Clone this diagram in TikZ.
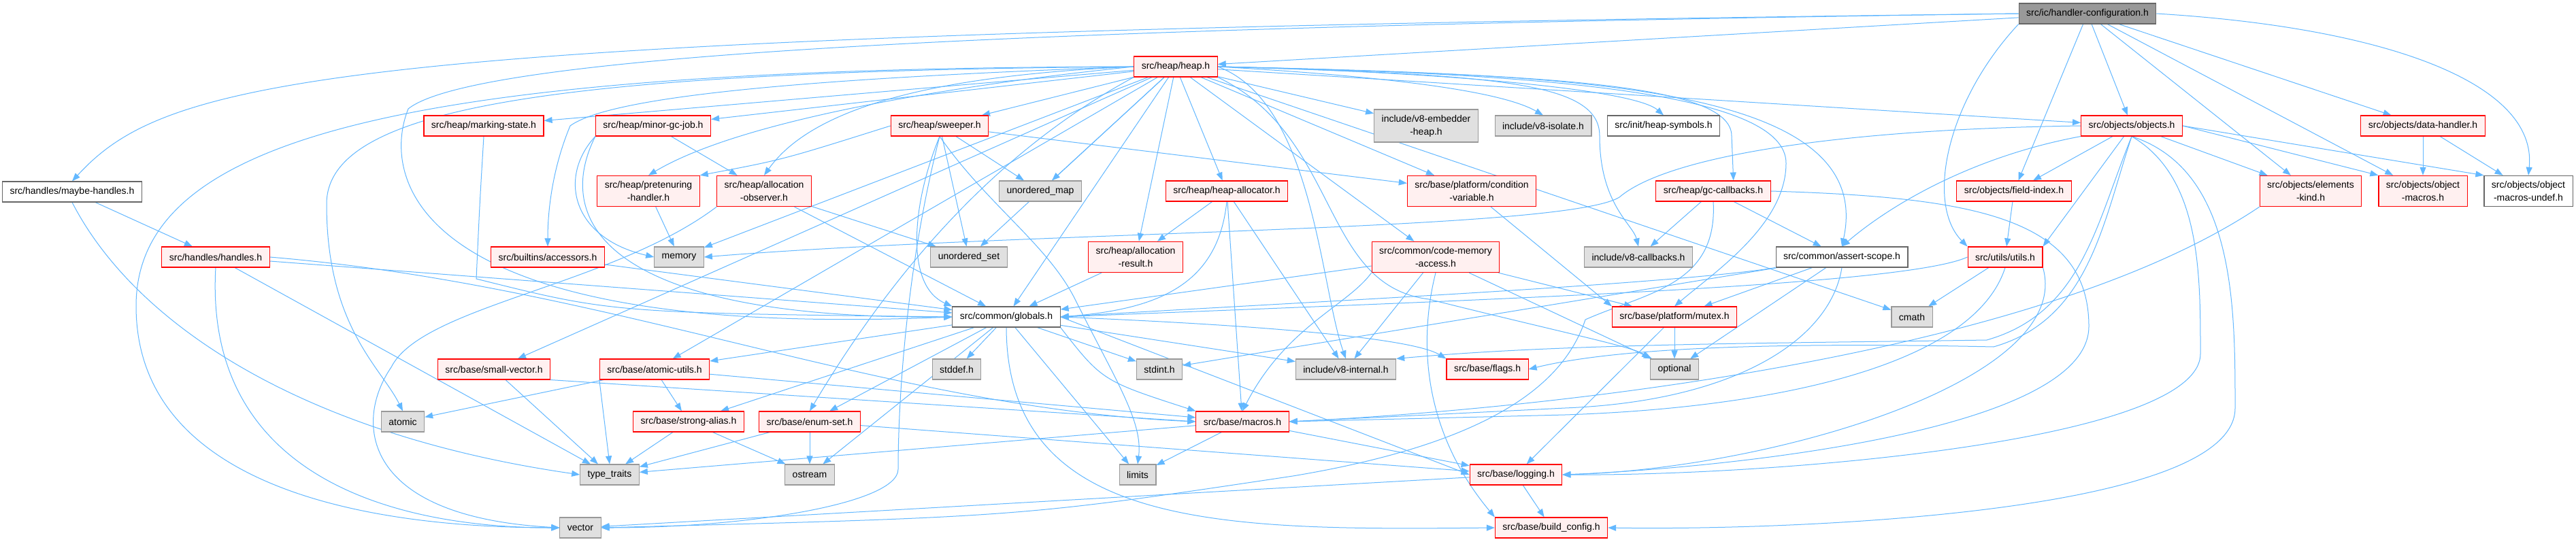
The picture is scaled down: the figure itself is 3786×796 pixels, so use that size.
\documentclass[tikz,border=0pt]{standalone}
\usepackage{fontspec}
\setmainfont{Liberation Sans}
\usetikzlibrary{arrows.meta,backgrounds}

\definecolor{edgeblue}{HTML}{63B8FF}
\definecolor{truncfill}{HTML}{FFF0F0}
\definecolor{extfill}{HTML}{E0E0E0}
\definecolor{extline}{HTML}{999999}
\definecolor{fileline}{HTML}{666666}
\definecolor{rootfill}{HTML}{999999}

\begin{document}
\begin{tikzpicture}[
  x=1pt,y=-1pt,
  font=\fontsize{14}{19}\selectfont,
  box/.style={draw,line width=1.1pt,minimum height=30pt,inner xsep=11pt,inner ysep=8pt,align=center},
  trunc/.style={box,draw=red,fill=truncfill},
  ext/.style={box,draw=extline,fill=extfill},
  file/.style={box,draw=fileline,fill=white},
  root/.style={box,draw=fileline,fill=rootfill},
  >={Triangle[length=12pt,width=9pt]},
  dep/.style={draw=edgeblue,->,line width=1pt}
]
\useasboundingbox (0,0) rectangle (3786,796);

% Top ranks
\node[root]  (hc)        at (3068,20)  {src/ic/handler-configuration.h};
\node[trunc] (heap)      at (1728,98)  {src/heap/heap.h};
\node[trunc] (markst)    at (711,185)  {src/heap/marking-state.h};
\node[trunc] (minorgc)   at (960,185)  {src/heap/minor-gc-job.h};
\node[trunc] (sweeper)   at (1381,185) {src/heap/sweeper.h};
\node[ext]   (embedder)  at (2096,185) {include/v8-embedder\\-heap.h};
\node[ext]   (isolate)   at (2268,185) {include/v8-isolate.h};
\node[file]  (heapsym)   at (2445,185) {src/init/heap-symbols.h};
\node[trunc] (objects)   at (3133,185) {src/objects/objects.h};
\node[trunc] (datahdl)   at (3561,185) {src/objects/data-handler.h};

\node[file]  (maybeh)    at (106,282)  {src/handles/maybe-handles.h};
\node[trunc] (pretenure) at (953,281)  {src/heap/pretenuring\\-handler.h};
\node[trunc] (allocobs)  at (1123,281) {src/heap/allocation\\-observer.h};
\node[ext]   (umap)      at (1529,281) {unordered\_map};
\node[trunc] (heapalloc) at (1803,281) {src/heap/heap-allocator.h};
\node[trunc] (condvar)   at (2163,281) {src/base/platform/condition\\-variable.h};
\node[trunc] (gccb)      at (2518,281) {src/heap/gc-callbacks.h};
\node[trunc] (fieldidx)  at (2960,281) {src/objects/field-index.h};
\node[trunc] (elemkind)  at (3396,281) {src/objects/elements\\-kind.h};
\node[trunc] (objmac)    at (3561,281) {src/objects/object\\-macros.h};
\node[file]  (objundef)  at (3716,281) {src/objects/object\\-macros-undef.h};

% Middle ranks
\node[trunc] (handles)   at (317,378)  {src/handles/handles.h};
\node[trunc] (accessors) at (805,378)  {src/builtins/accessors.h};
\node[ext]   (memory)    at (998,378)  {memory};
\node[ext]   (uset)      at (1424,378) {unordered\_set};
\node[trunc] (allocres)  at (1669,378) {src/heap/allocation\\-result.h};
\node[trunc] (codemem)   at (2110,378) {src/common/code-memory\\-access.h};
\node[ext]   (v8cb)      at (2408,378) {include/v8-callbacks.h};
\node[file]  (assert)    at (2707,378) {src/common/assert-scope.h};
\node[trunc] (utils)     at (2947,378) {src/utils/utils.h};

\node[file]  (globals)   at (1479,466) {src/common/globals.h};
\node[trunc] (mutex)     at (2461,466) {src/base/platform/mutex.h};
\node[ext]   (cmath)     at (2810,466) {cmath};

% Bottom ranks
\node[trunc] (smallvec)  at (726,543)  {src/base/small-vector.h};
\node[trunc] (atomicu)   at (962,543)  {src/base/atomic-utils.h};
\node[ext]   (stddef)    at (1406,543) {stddef.h};
\node[ext]   (stdint)    at (1704,543) {stdint.h};
\node[ext]   (v8int)     at (1978,543) {include/v8-internal.h};
\node[trunc] (flags)     at (2186,543) {src/base/flags.h};
\node[ext]   (optional)  at (2461,543) {optional};

\node[ext]   (atomic)    at (592,620)  {atomic};
\node[trunc] (stralias)  at (1012,620) {src/base/strong-alias.h};
\node[trunc] (enumset)   at (1190,620) {src/base/enum-set.h};
\node[trunc] (macros)    at (1826,620) {src/base/macros.h};

\node[ext]   (typetr)    at (896,698)  {type\_traits};
\node[ext]   (ostream)   at (1190,698) {ostream};
\node[ext]   (limits)    at (1672,698) {limits};
\node[trunc] (logging)   at (2228,698) {src/base/logging.h};

\node[ext]   (vector)    at (853,776)  {vector};
\node[trunc] (buildcfg)  at (2280,776) {src/base/build\_config.h};

\begin{scope}[on background layer]
\fill[white] (0,0) rectangle (3786,796);
\end{scope}

\begin{scope}[on background layer,every path/.style={dep}]
% handler-configuration.h
\draw (hc) -- (heap);
\draw (hc.west) .. controls (500,50) and (250,110) .. (maybeh.north);
\draw (hc.west) .. controls (1500,40) and (700,80) .. (600,160) .. controls (560,260) and (600,500) .. (globals.west);
\draw (hc) -- (objects); \draw (hc) -- (datahdl); \draw (hc) -- (fieldidx);
\draw (hc) -- (elemkind); \draw (hc) -- (objmac);
\draw (hc.south west) .. controls (2860,150) and (2830,300) .. (utils.north west);
\draw (hc.east) .. controls (3500,40) and (3730,120) .. (objundef.north);

% heap.h
\draw (heap) -- (markst); \draw (heap) -- (minorgc); \draw (heap) -- (sweeper);
\draw (heap) -- (embedder); \draw (heap) -- (objects);
\draw (heap.east) .. controls (2000,110) and (2200,130) .. (isolate.north);
\draw (heap.east) .. controls (2100,105) and (2400,130) .. (heapsym.north);
\draw (heap.west) .. controls (1450,120) and (1100,170) .. (pretenure.north);
\draw (heap.west) .. controls (1400,110) and (1200,150) .. (allocobs.north);
\draw (heap) -- (umap); \draw (heap) -- (heapalloc); \draw (heap) -- (condvar);
\draw (heap.east) .. controls (2250,110) and (2545,120) .. (2545,200) -- ([xshift=-55pt]gccb.north east);
\draw (heap.west) .. controls (1200,115) and (900,140) .. (838,185) .. controls (815,240) and (805,300) .. (accessors.north);
\draw (heap) -- (memory); \draw (heap) -- (uset); \draw (heap) -- (allocres); \draw (heap) -- (codemem);
\draw (heap.east) .. controls (2200,110) and (2351,120) .. (2351,200) .. controls (2351,300) and (2400,330) .. (v8cb.north);
\draw (heap.east) .. controls (2300,110) and (2760,120) .. (assert.north);
\draw (heap) -- (globals);
\draw (heap.east) .. controls (2300,108) and (2625,140) .. (2625,240) .. controls (2625,330) and (2520,400) .. (mutex.north);
\draw (heap) -- (cmath); \draw (heap) -- (smallvec); \draw (heap) -- (atomicu);
\draw (heap.east) .. controls (1930,150) and (1940,420) .. (v8int.north);
\draw (heap.south east) .. controls (1970,200) and (1940,420) .. (2100,440) .. controls (2300,490) and (2400,510) .. (optional.north west);
\draw (heap.west) .. controls (800,105) and (480,160) .. (480,300) .. controls (480,480) and (560,540) .. (atomic.north);
\draw (heap.south west) .. controls (1450,230) and (1300,420) .. (enumset.north);
\draw (heap.west) .. controls (600,100) and (200,200) .. (200,450) .. controls (200,700) and (500,776) .. (vector.west);

% left part
\draw (markst.south) .. controls (705,300) .. (700,410) .. controls (900,460) .. (globals.west);
\draw (minorgc.south west) .. controls (820,260) and (840,350) .. (memory.west);
\draw (minorgc.south west) .. controls (810,330) and (900,470) .. (globals.west);
\draw (minorgc) -- (allocobs);
\draw (maybeh) -- (handles);
\draw (maybeh.south) .. controls (200,480) and (450,640) .. (typetr.west);
\draw (handles) -- (globals); \draw (handles) -- (typetr);
\draw (handles.east) .. controls (900,420) and (1300,600) .. (macros.west);
\draw (handles.south) .. controls (300,690) and (560,776) .. (vector.west);
\draw (accessors) -- (globals);
\draw (pretenure) -- (memory);

% sweeper.h
\draw (sweeper.west) .. controls (1150,235) .. (pretenure.north east);
\draw (sweeper.south) .. controls (1330,400) and (1320,600) .. (1320,690) .. controls (1320,740) and (1100,776) .. (vector.east);
\draw (sweeper.south) .. controls (1340,300) and (1330,420) .. (globals.north west);
\draw (sweeper.south) .. controls (1450,300) and (1540,360) .. (1580,440) .. controls (1640,560) and (1680,620) .. (limits.north);
\draw (sweeper) -- (uset); \draw (sweeper) -- (umap); \draw (sweeper) -- (condvar);

% allocation
\draw (allocobs) -- (globals); \draw (allocobs) -- (uset);
\draw (allocobs.south west) .. controls (900,420) and (620,450) .. (575,540) .. controls (520,620) and (530,760) .. (vector.west);
\draw (heapalloc) -- (allocres);
\draw (heapalloc.south) .. controls (1790,420) and (1700,455) .. (globals.east);
\draw (heapalloc) -- (macros); \draw (heapalloc) -- (v8int);
\draw (allocres) -- (globals);

% objects.h
\draw (objects.west) .. controls (2700,190) and (2450,230) .. (2380,290) .. controls (2300,340) and (1500,340) .. (memory.east);
\draw (objects.south) .. controls (3080,330) and (3060,460) .. (2920,500) .. controls (2600,505) and (2300,505) .. (v8int.north east);
\draw (objects.south) .. controls (3090,330) and (3070,470) .. (2930,510) .. controls (2700,505) and (2400,505) .. (flags.east);
\draw (objects.south) .. controls (3234,260) and (3234,400) .. (3234,520) .. controls (3234,650) and (2600,700) .. (logging.east);
\draw (objects.south) .. controls (3285,250) and (3285,450) .. (3285,600) .. controls (3285,760) and (2600,780) .. (buildcfg.east);
\draw (objects.south west) .. controls (2900,230) and (2780,300) .. (assert.north);
\draw (objects) -- (elemkind); \draw (objects) -- (fieldidx); \draw (objects) -- (utils.north east);
\draw (objects.east) -- (objmac.north west); \draw (objects.east) -- (objundef.north west);
\draw (datahdl) -- (objmac); \draw (datahdl) -- (objundef);
\draw (fieldidx) -- (utils);
\draw (elemkind.south west) .. controls (3000,520) and (2300,600) .. (macros.east);

% gc-callbacks.h, condition-variable.h, code-memory-access.h
\draw (gccb) -- (v8cb); \draw (gccb) -- (assert);
\draw (gccb.east) .. controls (2900,290) and (3070,320) .. (3070,480) .. controls (3070,640) and (2500,690) .. (logging.east);
\draw (gccb.south) .. controls (2525,420) and (2420,430) .. (2330,470) .. controls (2300,560) and (2200,650) .. (1900,700) .. controls (1500,760) .. (vector.east);
\draw (condvar) -- (mutex.north west);
\draw (codemem) -- (globals); \draw (codemem) -- (v8int);
\draw (codemem.south) .. controls (2090,480) and (2080,620) .. (buildcfg.north west);
\draw (codemem.south west) .. controls (1980,450) and (1890,480) .. (macros.north);
\draw (codemem) -- (optional); \draw (codemem) -- (mutex);

% assert-scope.h, utils.h, mutex.h
\draw (assert.south west) .. controls (2450,420) and (1800,450) .. (globals.east);
\draw (assert) -- (mutex); \draw (assert) -- (stdint); \draw (assert) -- (optional);
\draw (assert.south) .. controls (2690,500) and (2550,590) .. (2300,600) .. controls (2100,610) .. (macros.east);
\draw (utils.west) .. controls (2800,420) and (2200,440) .. (globals.east);
\draw (utils) -- (cmath);
\draw (utils.south) .. controls (2900,540) and (2600,600) .. (2300,610) .. controls (2100,615) .. (macros.east);
\draw (utils.south east) .. controls (3050,560) and (2600,690) .. (logging.east);
\draw (mutex) -- (optional); \draw (mutex) -- (logging);

% base
\draw (smallvec) -- (typetr); \draw (smallvec.south east) -- (macros.west);
\draw (atomicu) -- (atomic); \draw (atomicu.south west) -- (typetr.north);
\draw (atomicu) -- (macros); \draw (atomicu) -- (stralias);
\draw (globals) -- (atomicu); \draw (globals) -- (stralias); \draw (globals) -- (enumset);
\draw (globals) -- (ostream); \draw (globals) -- (stddef); \draw (globals) -- (limits);
\draw (globals) -- (stdint); \draw (globals) -- (v8int);
\draw (globals.east) .. controls (1900,480) and (2080,500) .. (flags.north west);
\draw (globals.south east) .. controls (1620,560) .. (macros.north west);
\draw (globals.east) -- (logging.west);
\draw (globals.south) .. controls (1480,780) and (1800,780) .. (buildcfg.west);
\draw (stralias) -- (typetr); \draw (stralias) -- (ostream);
\draw (enumset) -- (typetr); \draw (enumset) -- (ostream); \draw (enumset) -- (logging);
\draw (macros) -- (limits); \draw (macros) -- (typetr); \draw (macros) -- (logging);
\draw (logging) -- (vector); \draw (logging) -- (buildcfg);
\end{scope}
\end{tikzpicture}
\end{document}
